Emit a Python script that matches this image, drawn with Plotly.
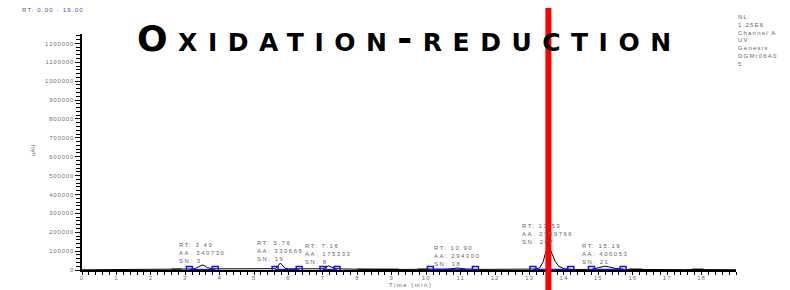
import plotly.graph_objects as go

# ---------------- data ----------------
time_min = [0.0, 0.5, 1.0, 1.5, 2.0, 2.5, 2.7, 3.0, 3.2, 3.3, 3.4, 3.49, 3.55, 3.65, 3.8,
            4.0, 4.2, 4.4, 4.5, 4.6, 4.7, 4.8, 5.0, 5.3, 5.5, 5.62, 5.7, 5.76, 5.82, 5.9,
            6.0, 6.2, 6.5, 6.8, 7.0, 7.08, 7.16, 7.25, 7.4, 7.6, 7.8, 8.0, 8.5, 9.0, 9.5,
            10.0, 10.3, 10.6, 10.8, 10.9, 11.0, 11.2, 11.5, 12.0, 12.5, 13.0, 13.2, 13.3,
            13.4, 13.45, 13.5, 13.53, 13.58, 13.65, 13.75, 13.85, 14.0, 14.2, 14.5, 14.8,
            15.0, 15.1, 15.19, 15.3, 15.5, 15.8, 16.0, 16.5, 17.0, 17.5, 17.8, 18.0, 18.5, 19.0]
intensity = [1000, 1000, 1200, 1000, 1500, 2500, 4000, 5000, 5500, 8000, 18000, 26000, 24000, 12000, 6000,
             6000, 5500, 9000, 7000, 9500, 6500, 6000, 5500, 6000, 6000, 7000, 22000, 37000, 25000, 9000,
             6000, 5500, 6000, 6000, 6500, 14000, 22000, 15000, 6500, 5500, 4500, 3000, 2500, 2500, 2500,
             3000, 3500, 4500, 8000, 11000, 8500, 4000, 3000, 2500, 2500, 3000, 5000, 12000,
             45000, 80000, 115000, 125000, 118000, 85000, 45000, 20000, 7000, 3000, 2500, 3000,
             12000, 18000, 20000, 17000, 8000, 3000, 2500, 2000, 2000, 2000, 2500, 2500, 2000, 1500]

peak_rt = [3.49, 5.76, 7.16, 10.90, 13.53, 15.19]
peak_aa = [340730, 330666, 175333, 294300, 2559766, 406053]
peak_sn = [3, 19, 8, 18, 267, 21]
peak_start = [3.12, 5.61, 7.00, 10.12, 13.10, 14.80]
peak_end = [3.87, 6.31, 7.41, 11.43, 14.20, 15.72]

gray_start = [2.6, 8.0, 9.75, 15.9, 17.73]
gray_end = [2.9, 9.2, 10.1, 16.28, 18.05]

x_ticks = list(range(0, 19))
y_ticks = [0, 100000, 200000, 300000, 400000, 500000, 600000, 700000, 800000,
           900000, 1000000, 1100000, 1200000]
marker_rt = 13.55

# ---------------- figure ----------------
def spaced(t, ls=1.0):
    return f'<span style="letter-spacing:{ls}px">{t}</span>'

FONT = "Liberation Sans"
GRAY = "#707070"

fig = go.Figure()

# gray baseline segments
gx, gy = [], []
for s, e in zip(gray_start, gray_end):
    gx += [s, e, None]
    gy += [1500, 1500, None]
fig.add_trace(go.Scatter(x=gx, y=gy, mode="lines", line=dict(color="#777777", width=3),
                         hoverinfo="skip", showlegend=False))

# chromatogram
fig.add_trace(go.Scatter(x=time_min, y=intensity, mode="lines",
                         line=dict(color="black", width=1), showlegend=False))

# blue peak baselines
bx, by = [], []
for s, e in zip(peak_start, peak_end):
    bx += [s, e, None]
    by += [2000, 2000, None]
fig.add_trace(go.Scatter(x=bx, y=by, mode="lines+markers",
                         line=dict(color="#1010ff", width=1.5),
                         marker=dict(symbol="square-open", size=6, color="#1010ff",
                                     line=dict(width=1.5)),
                         hoverinfo="skip", showlegend=False))

annotations = []
for rt, aa, sn in zip(peak_rt, peak_aa, peak_sn):
    h = intensity[time_min.index(rt)]
    annotations.append(dict(
        x=rt, y=h, xref="x", yref="y", xanchor="center", yanchor="bottom",
        text=spaced(f"RT: {rt:.2f}<br>AA: {aa}<br>SN: {sn}", 1.5),
        showarrow=False, align="left", yshift=-1,
        font=dict(family=FONT, size=6, color="#666666")))

# title
annotations.append(dict(
    x=0.5015, y=0.983, xref="paper", yref="paper", xanchor="center", yanchor="middle",
    text=spaced("Oxidation-reduction", 10.5), showarrow=False,
    font=dict(family="DejaVu Sans", size=36, color="black", weight="bold", variant="small-caps")))

# top-left range
annotations.append(dict(
    x=-0.0948, y=1.1017, xref="paper", yref="paper", xanchor="left", yanchor="middle",
    text=spaced('RT: <span style="fill:#4a4ab0">0.00 - 19.00</span>', 1.2), showarrow=False,
    font=dict(family=FONT, size=6, color="#666666")))

# right info block
annotations.append(dict(
    x=1.0, y=1.095, xref="paper", yref="paper", xanchor="left", yanchor="top",
    text=spaced("NL:<br>1.25E6<br>Channel A<br>UV<br>Genesis<br>DGMr06A0<br>5", 1.2),
    showarrow=False, align="left",
    font=dict(family=FONT, size=6, color="#666666")))

# axis titles
annotations.append(dict(
    x=-0.0749, y=0.508, xref="paper", yref="paper", xanchor="center", yanchor="middle",
    text="uAU", textangle=-90, showarrow=False,
    font=dict(family=FONT, size=6, color="#666666")))
annotations.append(dict(
    x=0.503, y=-0.064, xref="paper", yref="paper", xanchor="center", yanchor="middle",
    text=spaced("Time (min)", 1.5), showarrow=False,
    font=dict(family=FONT, size=6, color="#666666")))

# the page adds an 8px body margin, so the figure is sized to end at the window edge
fig.update_layout(
    width=782, height=282,
    margin=dict(l=74, r=54, t=26, b=20, autoexpand=False),
    paper_bgcolor="white", plot_bgcolor="white",
    annotations=annotations,
    shapes=[dict(type="line", xref="x", yref="paper", x0=marker_rt, x1=marker_rt,
                 y0=-0.2, y1=1.2, line=dict(color="#ff0000", width=6), layer="above")],
    xaxis=dict(range=[0, 19], showgrid=False, zeroline=False, automargin=False,
               showline=True, linecolor="black", linewidth=2,
               ticks="outside", ticklen=3, tickcolor="black", tickwidth=1,
               tickmode="array", tickvals=x_ticks, ticktext=[spaced(str(v), 1) for v in x_ticks],
               tickfont=dict(family=FONT, size=6, color=GRAY), ticklabelstandoff=-2,
               minor=dict(tickmode="linear", tick0=0, dtick=0.2, ticks="outside",
                          ticklen=3, tickcolor="black", showgrid=False)),
    yaxis=dict(range=[0, 1250000], showgrid=False, zeroline=False, automargin=False,
               showline=True, linecolor="black", linewidth=1.5,
               ticks="outside", ticklen=5, tickcolor="black", tickwidth=1,
               tickmode="array", tickvals=y_ticks, ticktext=[spaced(str(v), 0.8) for v in y_ticks],
               tickfont=dict(family=FONT, size=6, color=GRAY),
               minor=dict(tickmode="linear", tick0=0, dtick=20000, ticks="outside",
                          ticklen=4, tickcolor="black", showgrid=False)),
)

fig.write_html("out.html")
